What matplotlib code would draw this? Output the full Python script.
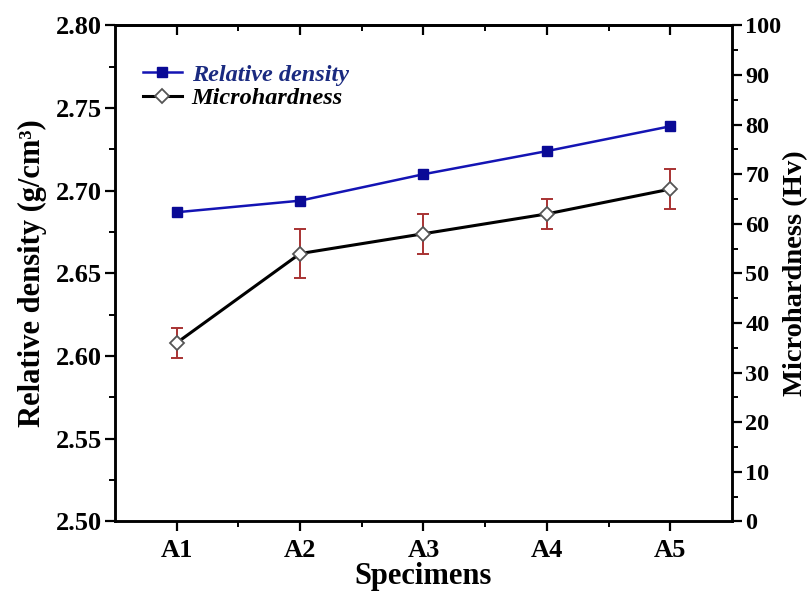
import matplotlib
matplotlib.use("Agg")
import matplotlib.pyplot as plt
from matplotlib.ticker import MultipleLocator, FormatStrFormatter, FixedLocator

plt.rcParams['font.family'] = ['Liberation Serif', 'DejaVu Serif']
plt.rcParams['font.weight'] = 'bold'

# data
specimens = ["A1", "A2", "A3", "A4", "A5"]
density = [2.687, 2.694, 2.710, 2.724, 2.739]
hardness = [36, 54, 58, 62, 67]
hardness_err = [3, 5, 4, 3, 4]

x = list(range(1, len(specimens) + 1))

fig = plt.figure(figsize=(8.12, 5.92), dpi=100)
ax = fig.add_axes([0.1416, 0.1193, 0.9015 - 0.1416, 0.957 - 0.1193])
ax2 = ax.twinx()

# relative density (left axis)
l1, = ax.plot(x, density, color="#1414b4", lw=1.8, marker="s", ms=6.5,
              mfc="#0a0a96", mec="#0a0a96", label="Relative density")

# microhardness (right axis)
ax2.errorbar(x, hardness, yerr=hardness_err, fmt="none", ecolor="#a83232",
             elinewidth=1.4, capsize=4.5, capthick=1.4, zorder=2)
l2, = ax2.plot(x, hardness, color="black", lw=2.2, marker="D", ms=7.5,
               mfc="white", mec="#555555", mew=1.3, label="Microhardness", zorder=3)

ax.set_xlim(0.5, 5.5)
ax.set_ylim(2.50, 2.80)
ax2.set_ylim(0, 100)

ax.set_xticks(x)
ax.set_xticklabels(specimens)
ax.xaxis.set_minor_locator(FixedLocator([1.5, 2.5, 3.5, 4.5]))
ax.yaxis.set_major_locator(MultipleLocator(0.05))
ax.yaxis.set_minor_locator(MultipleLocator(0.025))
ax.yaxis.set_major_formatter(FormatStrFormatter("%.2f"))
ax2.yaxis.set_major_locator(MultipleLocator(10))
ax2.yaxis.set_minor_locator(MultipleLocator(5))

for a in (ax, ax2):
    for s in a.spines.values():
        s.set_linewidth(1.8)
    a.tick_params(which="major", direction="out", length=7.5, width=1.6, labelsize=19, pad=2)
    a.tick_params(which="minor", direction="out", length=4, width=1.4)
ax.tick_params(axis="x", pad=5)
ax2.tick_params(axis="y", labelsize=17.5, pad=2)

# inward ticks along the top frame
top = ax.secondary_xaxis("top")
top.set_xticks(x)
top.xaxis.set_minor_locator(FixedLocator([1.5, 2.5, 3.5, 4.5]))
top.tick_params(which="major", direction="in", length=7, width=1.6, labeltop=False)
top.tick_params(which="minor", direction="in", length=4, width=1.4)
top.spines["top"].set_linewidth(1.8)

ax.set_xlabel("Specimens", fontsize=22, fontweight="bold", labelpad=0)
ax.set_ylabel("Relative density (g/cm³)", fontsize=22, fontweight="bold", labelpad=6)
ax2.set_ylabel("Microhardness (Hv)", fontsize=20.5, fontweight="bold", labelpad=1)

leg = ax2.legend([l1, l2], ["Relative density", "Microhardness"], loc="upper left",
                 bbox_to_anchor=(0.01, 0.967), frameon=False, handlelength=1.6,
                 handletextpad=0.4, labelspacing=0.07,
                 prop={"size": 17.5, "weight": "bold", "style": "italic"})
leg.get_texts()[0].set_color("#1a2a80")

fig.savefig("out.png", dpi=100)
